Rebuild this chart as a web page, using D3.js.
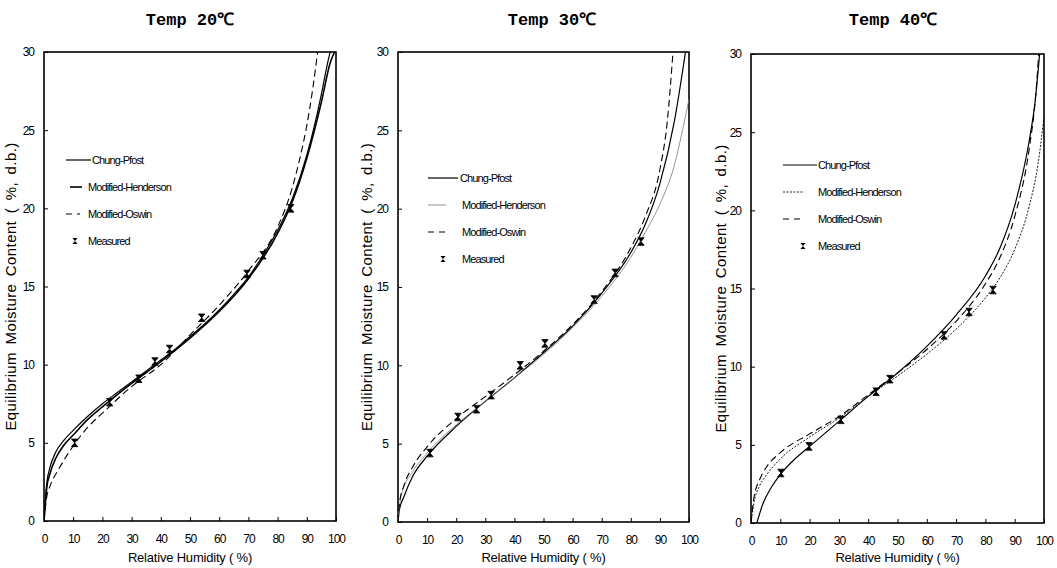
<!DOCTYPE html>
<html>
<head>
<meta charset="utf-8">
<script src="https://cdn.jsdelivr.net/npm/d3@7"></script>
<style>
  body { margin: 0; background: #fff; }
  svg { display: block; }
  .tick text { font-family: "Liberation Sans", Arial, sans-serif; font-size: 12px; letter-spacing: -1px; }
  .lbl { font-family: "Liberation Sans", Arial, sans-serif; font-size: 13px; letter-spacing: -0.2px; }
  .ylbl { font-family: "Liberation Sans", Arial, sans-serif; font-size: 15px; letter-spacing: 0.4px; word-spacing: 3px; }
  .leg { font-family: "Liberation Sans", Arial, sans-serif; font-size: 11px; letter-spacing: -0.9px; }
  .title { font-family: "Liberation Mono", "DejaVu Sans Mono", monospace; font-size: 17px; font-weight: bold; }
</style>
</head>
<body>
<script>
// chart values
const titles = ["Temp 20℃", "Temp 30℃", "Temp 40℃"];
const rhTicks = [0, 10, 20, 30, 40, 50, 60, 70, 80, 90, 100];
const emcTicks = [0, 5, 10, 15, 20, 25, 30];
const seriesNames = ["Chung-Pfost", "Modified-Henderson", "Modified-Oswin", "Measured"];

// measured points (RH %, EMC %)
const measRH20 = [10.5, 22.5, 32.5, 38, 43, 54, 69.5, 75, 84.5];
const measM20  = [5.0, 7.6, 9.1, 10.2, 11.0, 13.0, 15.8, 17.0, 20.0];
const measRH30 = [11, 20.6, 27, 32, 42, 50.5, 67.4, 74.6, 83.5];
const measM30  = [4.4, 6.7, 7.2, 8.1, 10.0, 11.4, 14.2, 15.9, 17.9];
const measRH40 = [10.2, 19.8, 30.7, 42.7, 47.4, 65.9, 74.4, 82.6];
const measM40  = [3.2, 4.9, 6.6, 8.4, 9.2, 12.0, 13.5, 14.9];

// fitted curves
const cpRH20 = [0, 0.5, 1, 2, 4, 7, 10, 15, 20, 25, 30, 35, 40, 45, 50, 55, 60, 65, 70, 75, 80, 85, 90, 93, 95, 97, 98];
const cpM20  = [0, 1.5, 2.5, 3.4, 4.4, 5.2, 5.8, 6.7, 7.5, 8.2, 8.9, 9.6, 10.3, 11.0, 11.8, 12.6, 13.5, 14.5, 15.6, 17.0, 18.6, 20.6, 23.4, 25.6, 27.3, 29.2, 30];
const mhRH20 = [0, 1, 2, 4, 7, 10, 15, 20, 30, 40, 50, 60, 70, 80, 85, 90, 95, 98, 99.5];
const mhM20  = [0, 2.2, 3.0, 4.0, 4.9, 5.5, 6.5, 7.3, 8.8, 10.2, 11.7, 13.4, 15.5, 18.4, 20.4, 23.2, 26.8, 29.3, 30];
const moRH20 = [0, 1, 2, 5, 10, 15, 20, 30, 40, 50, 60, 70, 80, 85, 88, 90, 92, 93.7];
const moM20  = [0, 1.6, 2.2, 3.3, 4.8, 6.0, 6.9, 8.6, 10.0, 11.9, 13.8, 16.0, 18.8, 21.3, 23.5, 25.3, 27.6, 30];

const cpRH30 = [0, 0.5, 2, 5, 10, 20, 30, 40, 50, 60, 70, 80, 85, 90, 95, 98.8];
const cpM30  = [0, 0.8, 1.6, 2.9, 4.2, 6.1, 7.7, 9.2, 10.8, 12.5, 14.6, 17.2, 19.0, 21.6, 25.6, 30];
const mhRH30 = [0, 1, 5, 10, 20, 30, 40, 50, 60, 70, 80, 85, 90, 95, 98, 100];
const mhM30  = [0, 1.6, 3.2, 4.4, 6.2, 7.7, 9.2, 10.7, 12.4, 14.4, 16.9, 18.5, 20.3, 22.8, 25.2, 27.0];
const moRH30 = [0, 0.5, 2, 5, 10, 20, 30, 40, 50, 60, 70, 80, 85, 90, 92.5, 94.5];
const moM30  = [0, 1.2, 2.3, 3.5, 4.8, 6.6, 8.0, 9.4, 10.9, 12.6, 14.7, 17.5, 19.5, 22.5, 25.5, 30];

const cpRH40 = [2, 4, 7, 10, 15, 20, 30, 40, 50, 60, 70, 80, 85, 90, 95, 97, 98.5];
const cpM40  = [0, 1.2, 2.3, 3.1, 4.1, 4.9, 6.5, 8.1, 9.6, 11.3, 13.3, 15.8, 17.6, 20.3, 24.5, 27.0, 30];
const mhRH40 = [0, 1, 3, 5, 10, 20, 30, 40, 50, 60, 70, 80, 85, 90, 95, 98, 100];
const mhM40  = [0, 1.3, 2.4, 3.0, 4.1, 5.5, 6.7, 8.1, 9.4, 10.8, 12.4, 14.4, 15.7, 17.5, 20.3, 23.0, 26.0];
const moRH40 = [0, 1, 3, 5, 10, 20, 30, 40, 50, 60, 70, 80, 85, 90, 95, 97, 98.2];
const moM40  = [0, 1.6, 2.8, 3.5, 4.5, 5.7, 6.8, 8.2, 9.6, 11.1, 12.9, 15.3, 17.0, 19.6, 24.0, 27.0, 30];

// panel geometry
const panels = [
  { x0: 44, x1: 336, y0: 521, y1: 52, labX: 16, titleX: 190,
    meas: [measRH20, measM20], cp: [cpRH20, cpM20], mh: [mhRH20, mhM20], mo: [moRH20, moM20],
    legX: 66, legY: 160, cpLen: 25, shortX: 4, shortLen: 12, markX: 9, txtCp: 26, txt: 22,
    mhStyle: { w: 1.6, dash: null, col: "#000" } },
  { x0: 398, x1: 689, y0: 522, y1: 52, labX: 372, titleX: 552,
    meas: [measRH30, measM30], cp: [cpRH30, cpM30], mh: [mhRH30, mhM30], mo: [moRH30, moM30],
    legX: 428, legY: 178, cpLen: 30, shortX: 0, shortLen: 18, markX: 15, txtCp: 32, txt: 34,
    mhStyle: { w: 0.8, dash: null, col: "#777" } },
  { x0: 751, x1: 1044, y0: 523, y1: 54, labX: 726, titleX: 893,
    meas: [measRH40, measM40], cp: [cpRH40, cpM40], mh: [mhRH40, mhM40], mo: [moRH40, moM40],
    legX: 783, legY: 165, cpLen: 34, shortX: 0, shortLen: 20, markX: 20, txtCp: 35, txt: 35,
    mhStyle: { w: 0.9, dash: "2,1.5", col: "#000" } }
];

const W = 1057, H = 568;
const svg = d3.select("body").append("svg").attr("width", W).attr("height", H);

const zip = (a, b) => a.map((v, i) => [v, b[i]]);

panels.forEach((p, k) => {
  const x = d3.scaleLinear().domain([0, 100]).range([p.x0, p.x1]);
  const y = d3.scaleLinear().domain([0, 30]).range([p.y0, p.y1]);
  const g = svg.append("g");

  // title
  g.append("text").attr("class", "title")
    .attr("x", p.titleX).attr("y", 25)
    .attr("text-anchor", "middle").text(titles[k]);

  // clip for curves
  const clipId = "clip" + k;
  svg.append("clipPath").attr("id", clipId)
    .append("rect").attr("x", p.x0).attr("y", p.y1).attr("width", p.x1 - p.x0).attr("height", p.y0 - p.y1);

  // axes with inward ticks
  const xAxis = g.append("g").attr("transform", `translate(0,${p.y0})`)
    .call(d3.axisBottom(x).tickValues(rhTicks).tickSize(-4).tickPadding(13).tickFormat(d3.format("d")));
  const yAxis = g.append("g").attr("transform", `translate(${p.x0},0)`)
    .call(d3.axisLeft(y).tickValues(emcTicks).tickSize(-4).tickPadding(10).tickFormat(d3.format("d")));
  [xAxis, yAxis].forEach(a => {
    a.select(".domain").remove();
    a.selectAll(".tick line").attr("stroke", "#000").attr("stroke-width", 1);
  });

  // frame
  g.append("rect").attr("x", p.x0).attr("y", p.y1)
    .attr("width", p.x1 - p.x0).attr("height", p.y0 - p.y1)
    .attr("fill", "none").attr("stroke", "#000").attr("stroke-width", 1.6);

  // axis labels
  g.append("text").attr("class", "lbl")
    .attr("x", (p.x0 + p.x1) / 2).attr("y", 562)
    .attr("text-anchor", "middle").text("Relative Humidity ( %)");
  g.append("text").attr("class", "ylbl")
    .attr("transform", `translate(${p.labX},${(p.y0 + p.y1) / 2}) rotate(-90)`)
    .attr("text-anchor", "middle").text("Equilibrium Moisture Content ( %, d.b.)");

  const line = d3.line().x(d => x(d[0])).y(d => y(d[1])).curve(d3.curveMonotoneX);
  const curves = [
    { d: zip(p.cp[0], p.cp[1]), w: 1.2, dash: null, col: "#000" },
    { d: zip(p.mh[0], p.mh[1]), w: p.mhStyle.w, dash: p.mhStyle.dash, col: p.mhStyle.col },
    { d: zip(p.mo[0], p.mo[1]), w: 1.1, dash: "7,4", col: "#000" }
  ];
  curves.forEach(c => {
    g.append("path").attr("clip-path", `url(#${clipId})`)
      .attr("d", line(c.d)).attr("fill", "none")
      .attr("stroke", c.col).attr("stroke-width", c.w)
      .attr("stroke-dasharray", c.dash);
  });

  // measured markers (hourglass x)
  const marker = "M-3.2,-3.8L3.2,-3.8L-3.2,3.8L3.2,3.8Z";
  g.selectAll(".pt").data(zip(p.meas[0], p.meas[1])).enter()
    .append("path").attr("class", "pt")
    .attr("transform", d => `translate(${x(d[0])},${y(d[1])})`)
    .attr("d", marker).attr("fill", "#000").attr("stroke", "#000").attr("stroke-width", 0.8);

  // legend
  const leg = g.append("g").attr("transform", `translate(${p.legX},${p.legY})`);
  const legStyles = [
    { x1: 0, x2: p.cpLen, w: 1.2, dash: null, col: "#000" },
    { x1: p.shortX, x2: p.shortX + p.shortLen, w: p.mhStyle.w, dash: p.mhStyle.dash, col: p.mhStyle.col },
    { x1: 0, x2: p.shortLen + 2, w: 1.1, dash: "6,5", col: "#000" }
  ];
  seriesNames.forEach((name, i) => {
    const row = leg.append("g").attr("transform", `translate(0,${i * 27})`);
    if (i < 3) {
      const s = legStyles[i];
      row.append("line").attr("x1", s.x1).attr("x2", s.x2)
        .attr("y1", 0).attr("y2", 0)
        .attr("stroke", s.col).attr("stroke-width", s.w).attr("stroke-dasharray", s.dash);
    } else {
      row.append("path").attr("transform", `translate(${p.markX},0) scale(0.8)`)
        .attr("d", marker).attr("fill", "#000");
    }
    row.append("text").attr("class", "leg")
      .attr("x", i === 0 ? p.txtCp : p.txt).attr("y", 4).text(name);
  });
});
</script>
</body>
</html>
